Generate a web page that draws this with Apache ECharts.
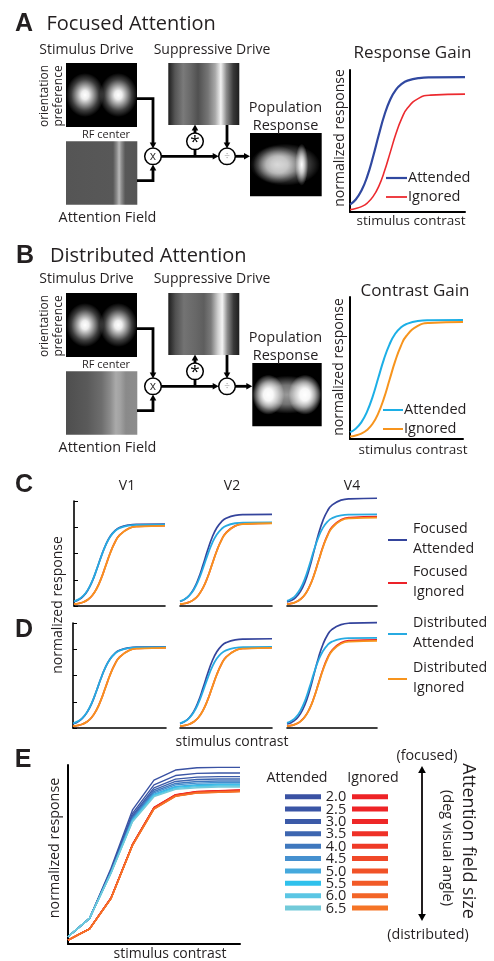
<!DOCTYPE html>
<html>
<head>
<meta charset="utf-8">
<script src="https://cdn.jsdelivr.net/npm/echarts@6/dist/echarts.min.js"></script>
<style>
  html, body { margin: 0; padding: 0; background: #fff; }
  #fig { width: 494px; height: 961px; }
</style>
</head>
<body>
<div id="fig"></div>
<script>
// stimulus contrast samples (normalized 0..1) shared by the smooth curves
const contrastX = [0, 0.05, 0.1, 0.15, 0.2, 0.25, 0.3, 0.35, 0.4, 0.45, 0.5, 0.6, 0.7, 1];

// A - response gain
const aAttended = [0.052, 0.088, 0.151, 0.251, 0.387, 0.542, 0.685, 0.792, 0.862, 0.902, 0.925, 0.943, 0.948, 0.95];
const aIgnored = [0.017, 0.025, 0.038, 0.063, 0.108, 0.181, 0.288, 0.42, 0.552, 0.659, 0.732, 0.802, 0.823, 0.83];
// B - contrast gain
const bAttended = [0.048, 0.073, 0.117, 0.191, 0.297, 0.429, 0.561, 0.667, 0.741, 0.785, 0.81, 0.831, 0.836, 0.838];
const bIgnored = [0.017, 0.025, 0.038, 0.063, 0.107, 0.18, 0.286, 0.417, 0.548, 0.654, 0.727, 0.796, 0.817, 0.824];

// C - V1, V2, V4
const c1FocAtt = [0.041, 0.059, 0.091, 0.148, 0.234, 0.35, 0.475, 0.585, 0.666, 0.717, 0.747, 0.771, 0.778, 0.78];
const c1FocIgn = [0.017, 0.024, 0.036, 0.059, 0.1, 0.168, 0.266, 0.388, 0.509, 0.607, 0.675, 0.739, 0.758, 0.765];
const c1DisAtt = [0.045, 0.063, 0.096, 0.151, 0.237, 0.351, 0.474, 0.583, 0.663, 0.713, 0.742, 0.766, 0.773, 0.775];
const c1DisIgn = [0.017, 0.024, 0.036, 0.059, 0.1, 0.167, 0.265, 0.387, 0.508, 0.606, 0.673, 0.737, 0.756, 0.763];
const c2FocAtt = [0.043, 0.063, 0.1, 0.163, 0.261, 0.39, 0.531, 0.655, 0.745, 0.802, 0.835, 0.863, 0.87, 0.873];
const c2FocIgn = [0.017, 0.024, 0.037, 0.061, 0.103, 0.173, 0.274, 0.4, 0.526, 0.627, 0.697, 0.763, 0.783, 0.79];
const c2DisAtt = [0.046, 0.064, 0.098, 0.155, 0.243, 0.36, 0.487, 0.599, 0.681, 0.733, 0.763, 0.788, 0.795, 0.797];
const c2DisIgn = [0.017, 0.024, 0.036, 0.061, 0.103, 0.173, 0.274, 0.399, 0.524, 0.625, 0.695, 0.762, 0.781, 0.788];
const c4FocAtt = [0.038, 0.054, 0.085, 0.14, 0.23, 0.361, 0.523, 0.685, 0.816, 0.906, 0.961, 1.008, 1.021, 1.026];
const c4FocIgn = [0.018, 0.025, 0.039, 0.065, 0.11, 0.186, 0.295, 0.43, 0.566, 0.675, 0.751, 0.822, 0.843, 0.851];
const c4DisAtt = [0.048, 0.068, 0.105, 0.167, 0.264, 0.393, 0.533, 0.656, 0.746, 0.803, 0.836, 0.863, 0.87, 0.873];
const c4DisIgn = [0.017, 0.025, 0.038, 0.064, 0.109, 0.184, 0.292, 0.426, 0.56, 0.668, 0.743, 0.814, 0.835, 0.842];

// D - V1, V2, V4
const d1FocAtt = [0.04, 0.058, 0.091, 0.147, 0.232, 0.347, 0.471, 0.58, 0.66, 0.71, 0.74, 0.764, 0.771, 0.773];
const d1FocIgn = [0.017, 0.024, 0.036, 0.059, 0.1, 0.168, 0.266, 0.388, 0.509, 0.607, 0.675, 0.739, 0.758, 0.765];
const d1DisAtt = [0.045, 0.063, 0.095, 0.15, 0.235, 0.348, 0.471, 0.579, 0.658, 0.708, 0.737, 0.761, 0.768, 0.77];
const d1DisIgn = [0.017, 0.024, 0.036, 0.059, 0.1, 0.167, 0.265, 0.387, 0.508, 0.606, 0.673, 0.737, 0.756, 0.763];
const d2FocAtt = [0.042, 0.062, 0.098, 0.159, 0.254, 0.38, 0.517, 0.638, 0.726, 0.781, 0.813, 0.84, 0.847, 0.85];
const d2FocIgn = [0.017, 0.024, 0.036, 0.059, 0.1, 0.168, 0.266, 0.388, 0.509, 0.607, 0.675, 0.739, 0.758, 0.765];
const d2DisAtt = [0.045, 0.063, 0.095, 0.151, 0.236, 0.35, 0.473, 0.582, 0.661, 0.711, 0.74, 0.764, 0.771, 0.773];
const d2DisIgn = [0.017, 0.024, 0.036, 0.059, 0.1, 0.167, 0.265, 0.387, 0.508, 0.606, 0.673, 0.737, 0.756, 0.763];
const d4FocAtt = [0.038, 0.053, 0.084, 0.137, 0.225, 0.353, 0.512, 0.67, 0.798, 0.886, 0.939, 0.985, 0.998, 1.003];
const d4FocIgn = [0.017, 0.025, 0.038, 0.064, 0.109, 0.183, 0.291, 0.425, 0.559, 0.667, 0.741, 0.812, 0.833, 0.84];
const d4DisAtt = [0.048, 0.068, 0.103, 0.165, 0.26, 0.387, 0.525, 0.646, 0.734, 0.79, 0.822, 0.849, 0.856, 0.859];
const d4DisIgn = [0.017, 0.025, 0.038, 0.063, 0.108, 0.181, 0.288, 0.42, 0.552, 0.659, 0.732, 0.802, 0.823, 0.83];

// E - attention field size sweep (9 contrast levels)
const eContrast = [0, 1, 2, 3, 4, 5, 6, 7, 8];
const eSizes = ['2.0', '2.5', '3.0', '3.5', '4.0', '4.5', '5.0', '5.5', '6.0', '6.5'];
const eAttended = [
  [0.041, 0.143, 0.423, 0.749, 0.916, 0.972, 0.985, 0.987, 0.987],
  [0.041, 0.143, 0.415, 0.730, 0.889, 0.941, 0.953, 0.955, 0.955],
  [0.041, 0.143, 0.410, 0.718, 0.872, 0.921, 0.932, 0.935, 0.935],
  [0.041, 0.143, 0.406, 0.710, 0.861, 0.908, 0.919, 0.922, 0.922],
  [0.041, 0.143, 0.404, 0.703, 0.852, 0.897, 0.908, 0.911, 0.911],
  [0.041, 0.143, 0.401, 0.698, 0.844, 0.889, 0.899, 0.902, 0.902],
  [0.041, 0.143, 0.399, 0.693, 0.837, 0.880, 0.890, 0.894, 0.894],
  [0.041, 0.143, 0.398, 0.690, 0.832, 0.875, 0.884, 0.888, 0.888],
  [0.041, 0.143, 0.396, 0.686, 0.828, 0.869, 0.879, 0.883, 0.883],
  [0.041, 0.143, 0.395, 0.683, 0.823, 0.864, 0.873, 0.877, 0.877]
];
const eIgnored = [
  [0.022, 0.085, 0.258, 0.557, 0.763, 0.834, 0.852, 0.856, 0.860],
  [0.022, 0.085, 0.257, 0.556, 0.762, 0.833, 0.851, 0.855, 0.859],
  [0.022, 0.085, 0.257, 0.555, 0.761, 0.832, 0.850, 0.854, 0.858],
  [0.022, 0.084, 0.256, 0.555, 0.760, 0.831, 0.849, 0.853, 0.857],
  [0.022, 0.084, 0.256, 0.554, 0.759, 0.830, 0.848, 0.852, 0.856],
  [0.022, 0.084, 0.255, 0.553, 0.758, 0.829, 0.847, 0.851, 0.855],
  [0.022, 0.084, 0.255, 0.553, 0.757, 0.828, 0.846, 0.850, 0.854],
  [0.022, 0.083, 0.254, 0.552, 0.756, 0.827, 0.845, 0.849, 0.853],
  [0.022, 0.083, 0.254, 0.551, 0.755, 0.826, 0.844, 0.848, 0.852],
  [0.022, 0.083, 0.253, 0.550, 0.754, 0.825, 0.843, 0.847, 0.851]
];

const eAttColors = ['#3a52a3', '#3a55a5', '#3b5aa8', '#3d66b0', '#3f78be', '#4590cf', '#45a9dd', '#2fc1ec', '#5bc6e4', '#72cad9'];
const eIgnColors = ['#ee2326', '#ee2326', '#ee2727', '#ef3127', '#ef3a27', '#f04828', '#f15228', '#f25a27', '#f36527', '#f57426'];
const COL = { focAtt: '#34449c', focIgn: '#ec2229', disAtt: '#27aae1', disIgn: '#f7941d' };
const FONT = '"Open Sans", "Noto Sans", sans-serif';
const INK = '#231f20';

// grids: left, top, width, height
const boxes = [
  [350, 70, 115, 142],   // 0 A
  [350, 297, 113, 142],  // 1 B
  [74, 501, 91, 105],    // 2 C V1
  [180, 501, 92, 105],   // 3 C V2
  [287, 501, 90, 105],   // 4 C V4
  [73, 623, 93, 105],    // 5 D V1
  [180, 623, 92, 105],   // 6 D V2
  [287, 623, 90, 105],   // 7 D V4
  [68, 765, 172, 179]    // 8 E
];

let grid = [], xAxis = [], yAxis = [];
boxes.forEach((b, i) => {
  const yLine = [0, 1, 2, 5, 8].includes(i);
  const ticks = i === 2 || i === 5;
  const w = (i < 2 || i === 8) ? 2 : 1.6;
  grid.push({ left: b[0], top: b[1], width: b[2], height: b[3] });
  xAxis.push({
    gridIndex: i, type: 'value', min: 0, max: i === 8 ? 8 : 1,
    axisLine: { show: true, onZero: false, lineStyle: { color: '#000', width: w } },
    axisTick: { show: false }, axisLabel: { show: false }, splitLine: { show: false }
  });
  yAxis.push({
    gridIndex: i, type: 'value', min: 0, max: 1, interval: 0.25,
    axisLine: { show: yLine, onZero: false, lineStyle: { color: '#000', width: w } },
    axisTick: { show: ticks, inside: true, length: 4, lineStyle: { color: '#000', width: 1 } },
    axisLabel: { show: false }, splitLine: { show: false }
  });
});

let series = [];
function curve(g, ys, color, width) {
  series.push({
    type: 'line', xAxisIndex: g, yAxisIndex: g,
    data: contrastX.map((x, i) => [x, ys[i]]),
    smooth: 0.5, symbol: 'none', clip: false,
    lineStyle: { color: color, width: width || 1.8 }, silent: true
  });
}
curve(0, aAttended, '#3048a0', 2.2);
curve(0, aIgnored, '#ec2a2f', 1.6);
curve(1, bAttended, '#1cafe6', 2);
curve(1, bIgnored, '#f7941d', 2);
[[2, c1FocAtt, c1FocIgn, c1DisAtt, c1DisIgn], [3, c2FocAtt, c2FocIgn, c2DisAtt, c2DisIgn],
 [4, c4FocAtt, c4FocIgn, c4DisAtt, c4DisIgn], [5, d1FocAtt, d1FocIgn, d1DisAtt, d1DisIgn],
 [6, d2FocAtt, d2FocIgn, d2DisAtt, d2DisIgn], [7, d4FocAtt, d4FocIgn, d4DisAtt, d4DisIgn]].forEach(p => {
  curve(p[0], p[1], COL.focAtt, 1.7);
  curve(p[0], p[2], COL.focIgn, 1.7);
  curve(p[0], p[3], COL.disAtt, 1.8);
  curve(p[0], p[4], COL.disIgn, 1.8);
});
eAttended.forEach((ys, k) => {
  series.push({
    type: 'line', xAxisIndex: 8, yAxisIndex: 8, data: eContrast.map((x, i) => [x, ys[i]]),
    symbol: 'none', lineStyle: { color: eAttColors[k], width: 1.4 }, silent: true
  });
});
eIgnored.forEach((ys, k) => {
  series.push({
    type: 'line', xAxisIndex: 8, yAxisIndex: 8, data: eContrast.map((x, i) => [x, ys[i]]),
    symbol: 'none', lineStyle: { color: eIgnColors[k], width: 1.4 }, silent: true
  });
});

// ---- drawing helpers for the diagram parts ----
let g = [];
function txt(s, x, y, size, o) {
  o = o || {};
  g.push({
    type: 'text', x: x, y: y, rotation: o.rot || 0, z: 50,
    style: {
      text: s, x: 0, y: 0, fill: o.color || INK,
      font: (o.weight || 'normal') + ' ' + size + 'px ' + (o.family || FONT),
      textAlign: o.align || 'center', align: o.align || 'center',
      textVerticalAlign: 'middle', verticalAlign: 'middle'
    }
  });
}
function rect(x, y, w, h, fill) {
  g.push({ type: 'rect', shape: { x: x, y: y, width: w, height: h }, style: { fill: fill }, z: 10 });
}
function hgrad(stops) {
  return { type: 'linear', x: 0, y: 0, x2: 1, y2: 0, colorStops: stops.map(s => ({ offset: s[0], color: s[1] })) };
}
function blob(cx, cy, rx, ry, stops) {
  g.push({
    type: 'circle', x: cx, y: cy, scaleX: rx / ry, scaleY: 1, z: 12,
    shape: { cx: 0, cy: 0, r: ry },
    style: { fill: { type: 'radial', x: 0.5, y: 0.5, r: 0.5,
      colorStops: stops.map(s => ({ offset: s[0], color: 'rgba(255,255,255,' + s[1] + ')' })) } }
  });
}
function seg(pts, w, c) {
  g.push({ type: 'polyline', shape: { points: pts }, style: { stroke: c || '#000', lineWidth: w || 2.8, fill: null }, z: 20 });
}
function head(x, y, dir, s) {
  s = s || 6;
  const h = s * 0.55;
  let pts;
  if (dir === 'down') pts = [[x, y], [x - h, y - s], [x + h, y - s]];
  else if (dir === 'up') pts = [[x, y], [x - h, y + s], [x + h, y + s]];
  else pts = [[x, y], [x - s, y - h], [x - s, y + h]];
  g.push({ type: 'polygon', shape: { points: pts }, style: { fill: '#000' }, z: 21 });
}
function op(cx, cy, sym, size, color) {
  g.push({ type: 'circle', shape: { cx: cx, cy: cy, r: 8.3 }, style: { fill: '#fff', stroke: '#000', lineWidth: 1.5 }, z: 22 });
  txt(sym, cx, cy + 0.5, size, { color: color });
  g[g.length - 1].z = 23;
}

function diagram(dy, focused) {
  // stimulus drive
  rect(66, 63 + dy, 71, 64, '#000');
  const sd = [[0, 1], [0.2, 0.93], [0.45, 0.6], [0.72, 0.24], [1, 0]];
  blob(85, 95 + dy, 19, 22, sd);
  blob(118.3, 95 + dy, 19, 22, sd);
  // attention field
  if (focused) {
    rect(66, 141.3 + dy, 71.3, 63.4, hgrad([[0, '#555'], [0.66, '#585858'], [0.71, '#8a8a8a'], [0.745, '#b8b8b8'], [0.78, '#8a8a8a'], [0.83, '#585858'], [1, '#555']]));
  } else {
    rect(66, 141.3 + dy, 71.3, 63.4, hgrad([[0, '#4e4e4e'], [0.3, '#5a5a5a'], [0.5, '#6e6e6e'], [0.62, '#8c8c8c'], [0.7, '#aaa'], [0.76, '#a2a2a2'], [0.84, '#8a8a8a'], [1, '#8c8c8c']]));
  }
  // suppressive drive
  if (focused) {
    rect(168.3, 63 + dy, 71, 62, hgrad([[0, '#1e1e1e'], [0.094, '#555'], [0.21, '#7a7a7a'], [0.305, '#6a6a6a'], [0.42, '#505050'], [0.56, '#767676'], [0.66, '#a8a8a8'], [0.74, '#f2f2f2'], [0.82, '#8a8a8a'], [0.915, '#3a3a3a'], [1, '#1e1e1e']]));
  } else {
    rect(168.3, 63 + dy, 71, 62, hgrad([[0, '#1e1e1e'], [0.1, '#505050'], [0.22, '#737373'], [0.38, '#686868'], [0.5, '#5e5e5e'], [0.6, '#7a7a7a'], [0.7, '#d0d0d0'], [0.76, '#f4f4f4'], [0.83, '#8e8e8e'], [0.92, '#3a3a3a'], [1, '#1e1e1e']]));
  }
  // population response
  if (focused) {
    rect(250, 133 + dy, 71.7, 63.3, '#000');
    blob(285, 164.7 + dy, 35, 21, [[0, 0.55], [0.4, 0.45], [0.75, 0.18], [1, 0]]);
    blob(277, 164.7 + dy, 24, 19, [[0, 0.7], [0.45, 0.55], [0.8, 0.15], [1, 0]]);
    blob(301.7, 164.7 + dy, 6.5, 21, [[0, 1], [0.4, 0.7], [1, 0]]);
  } else {
    rect(252.3, 363 - 230 + dy, 69.4, 63.3, '#000');
    blob(287, 394.7 - 230 + dy, 34, 19, [[0, 0.6], [0.5, 0.45], [1, 0]]);
    blob(268.3, 394.7 - 230 + dy, 16, 20, [[0, 1], [0.3, 0.95], [0.6, 0.6], [0.85, 0.25], [1, 0]]);
    blob(305, 394.7 - 230 + dy, 16.5, 20, [[0, 1], [0.3, 0.95], [0.6, 0.6], [0.85, 0.25], [1, 0]]);
  }
  const popLeft = focused ? 250 : 252.3;
  // arrows
  seg([[137, 98.7 + dy], [153, 98.7 + dy], [153, 143 + dy]]);
  head(153, 148.5 + dy, 'down');
  seg([[137, 180.7 + dy], [153, 180.7 + dy], [153, 170 + dy]]);
  head(153, 164.5 + dy, 'up');
  seg([[161, 156.3 + dy], [213, 156.3 + dy]]);
  head(218.7, 156.3 + dy, 'right');
  seg([[195, 156.3 + dy], [195, 149 + dy]]);
  seg([[195, 133.5 + dy], [195, 130 + dy]]);
  head(195, 124.5 + dy, 'up');
  seg([[227, 125 + dy], [227, 143 + dy]]);
  head(227, 148.5 + dy, 'down');
  seg([[235, 156.3 + dy], [popLeft - 5, 156.3 + dy]]);
  head(popLeft, 156.3 + dy, 'right');
  op(153, 156.3 + dy, 'x', 12, '#333');
  op(195, 141.3 + dy, '*', 17, '#000');
  op(227, 156.3 + dy, '\u00f7', 10, '#999');
  // labels
  txt('Stimulus Drive', 86.5, 50 + dy - (focused ? 0 : 0.7), 14);
  txt('Suppressive Drive', 212, 50 + dy - (focused ? 0 : 0.7), 14);
  txt('orientation', 44.5, 96 + dy, 12, { rot: Math.PI / 2 });
  txt('preference', 59, 96 + dy, 12, { rot: Math.PI / 2 });
  txt('RF center', 106, 134.5 + dy, 11);
  txt('Attention Field', 107.5, 217.5 + dy, 14.4);
  txt('Population', 285.5, 107.5 + dy, 14.5);
  txt('Response', 285.5, 126.3 + dy, 14.5);
}

// panel A
txt('A', 24, 24, 25, { weight: 'bold', family: '"Liberation Sans", Arial, sans-serif' });
txt('Focused Attention', 46.5, 24, 20, { align: 'left' });
diagram(0, true);
txt('Response Gain', 412.5, 53, 17);
txt('normalized response', 340, 138, 14, { rot: Math.PI / 2 });
txt('stimulus contrast', 411, 221.5, 13.5);
seg([[386, 178], [407, 178]], 2.2, '#3048a0');
seg([[386, 197], [407, 197]], 1.8, '#ec2a2f');
txt('Attended', 408, 178, 14.5, { align: 'left' });
txt('Ignored', 408, 197, 14.5, { align: 'left' });

// panel B
txt('B', 25, 256, 25, { weight: 'bold', family: '"Liberation Sans", Arial, sans-serif' });
txt('Distributed Attention', 50, 256, 20, { align: 'left' });
diagram(230, false);
txt('Contrast Gain', 415, 291.5, 17);
txt('normalized response', 339.3, 367, 14, { rot: Math.PI / 2 });
txt('stimulus contrast', 413, 450, 13.5);
seg([[383, 410], [403, 410]], 2, '#1cafe6');
seg([[383, 429], [403, 429]], 2, '#f7941d');
txt('Attended', 404, 410, 14.5, { align: 'left' });
txt('Ignored', 404, 429, 14.5, { align: 'left' });

// panels C / D
txt('C', 24, 485, 25, { weight: 'bold', family: '"Liberation Sans", Arial, sans-serif' });
txt('D', 24, 630, 25, { weight: 'bold', family: '"Liberation Sans", Arial, sans-serif' });
txt('V1', 127, 486, 14);
txt('V2', 232, 486, 14);
txt('V4', 352, 486, 14);
txt('normalized response', 58, 605, 14, { rot: Math.PI / 2 });
txt('stimulus contrast', 232, 742, 14);
[[540, 'Focused', 'Attended', COL.focAtt], [583, 'Focused', 'Ignored', COL.focIgn],
 [634, 'Distributed', 'Attended', COL.disAtt], [679, 'Distributed', 'Ignored', COL.disIgn]].forEach(l => {
  seg([[388, l[0]], [407, l[0]]], 2, l[3]);
  txt(l[1], 413, l[0] - 11, 14.2, { align: 'left' });
  txt(l[2], 413, l[0] + 9, 14.2, { align: 'left' });
});

// panel E
txt('E', 23, 760, 25, { weight: 'bold', family: '"Liberation Sans", Arial, sans-serif' });
txt('normalized response', 55, 848, 14.3, { rot: Math.PI / 2 });
txt('stimulus contrast', 170, 954, 14);
txt('Attended', 297, 778, 14.2);
txt('Ignored', 373, 778, 14.2);
eSizes.forEach((s, k) => {
  const y = 796.7 + k * 12.37;
  g.push({ type: 'rect', shape: { x: 285, y: y - 2.5, width: 36, height: 5 }, style: { fill: eAttColors[k] }, z: 10 });
  g.push({ type: 'rect', shape: { x: 352, y: y - 2.5, width: 36, height: 5 }, style: { fill: eIgnColors[k] }, z: 10 });
  txt(s, 336, y + 0.5, 14.5);
});
seg([[422, 771], [422, 916]], 2, INK);
head(422, 766, 'up', 7);
head(422, 921, 'down', 7);
txt('(focused)', 427, 756, 14.3);
txt('(distributed)', 428, 935, 14.3);
txt('Attention field size', 468, 841, 18, { rot: -Math.PI / 2 });
txt('(deg visual angle)', 447, 848, 14.5, { rot: -Math.PI / 2 });

const chart = echarts.init(document.getElementById('fig'), null, { renderer: 'canvas' });
chart.setOption({
  animation: false,
  backgroundColor: '#fff',
  grid: grid,
  xAxis: xAxis,
  yAxis: yAxis,
  series: series,
  graphic: { elements: g }
});
</script>
</body>
</html>
